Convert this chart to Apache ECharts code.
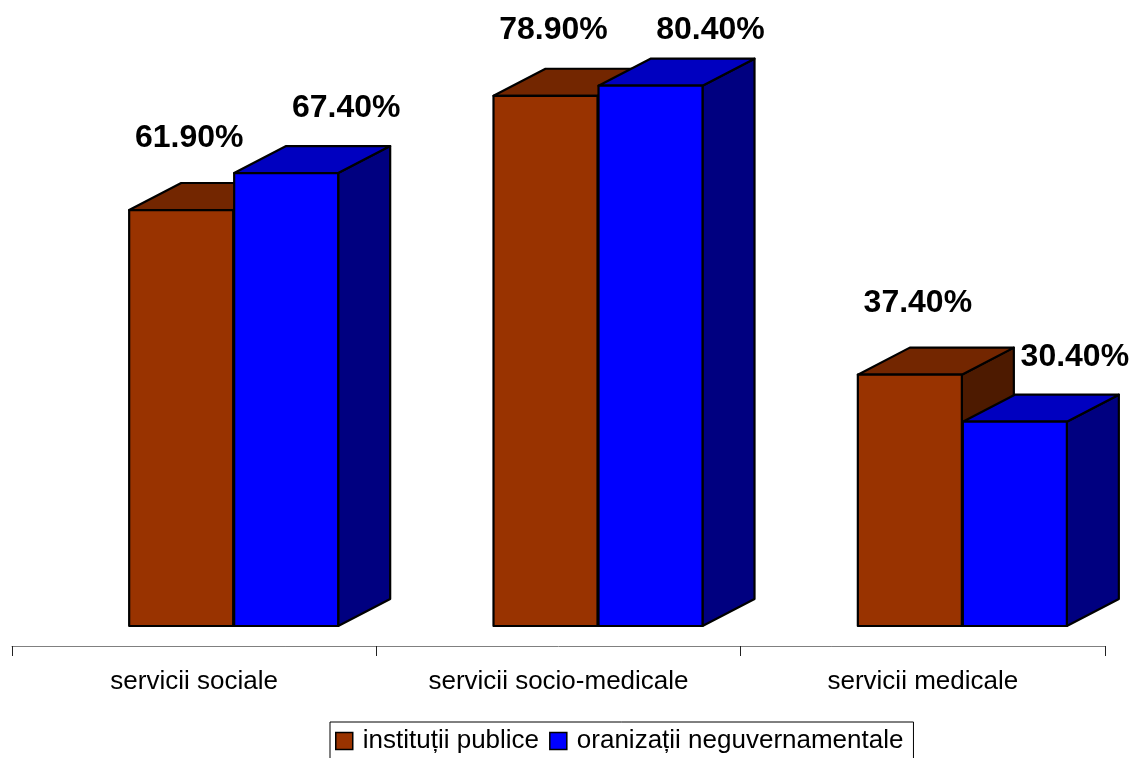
<!DOCTYPE html>
<html>
<head>
<meta charset="utf-8">
<script src="https://cdn.jsdelivr.net/npm/echarts@6/dist/echarts.min.js"></script>
<style>html,body{margin:0;padding:0;background:#fff;}#c{width:1137px;height:758px;}</style>
</head>
<body>
<div id="c"></div>
<script>
var categories = ['servicii sociale', 'servicii socio-medicale', 'servicii medicale'];
var institutiiPublice = [61.9, 78.9, 37.4];
var organizatiiNeguv = [67.4, 80.4, 30.4];
var seriesNames = ['instituții publice', 'oranizații neguvernamentale'];

var FONT = 'Liberation Sans, Arial, sans-serif';

function makeRender(offsetFrac, labelDx, labelDy, colors) {
  return function (params, api) {
    var idx = api.value(0);
    var val = api.value(1);
    var base = api.coord([idx, 0]);
    var top = api.coord([idx, val]);
    var bw = api.size([1, 0])[0];
    var w = bw * 0.2855;
    var x0 = base[0] + offsetFrac * bw;
    var x1 = x0 + w;
    var yb = base[1];
    var yt = top[1];
    var dx = bw * 0.1427;
    var dy = dx * 0.52;
    var line = {stroke: '#000', lineWidth: 2.2, lineJoin: 'round'};
    var ly = Math.max(30, yt - labelDy);
    return {
      type: 'group',
      children: [
        {type: 'polygon', shape: {points: [[x1, yb], [x1 + dx, yb - dy], [x1 + dx, yt - dy], [x1, yt]]},
          style: Object.assign({fill: colors[2]}, line)},
        {type: 'polygon', shape: {points: [[x0, yt], [x1, yt], [x1 + dx, yt - dy], [x0 + dx, yt - dy]]},
          style: Object.assign({fill: colors[1]}, line)},
        {type: 'rect', shape: {x: x0, y: yt, width: w, height: yb - yt},
          style: Object.assign({fill: colors[0]}, line)},
        {type: 'text', z2: 100, style: {text: val.toFixed(2) + '%', x: (x0 + x1) / 2 + labelDx, y: ly,
          align: 'center', verticalAlign: 'middle', fill: '#000',
          fontSize: 32, fontWeight: 'bold', fontFamily: FONT}}
      ]
    };
  };
}

var chart = echarts.init(document.getElementById('c'), null, {renderer: 'canvas'});
chart.setOption({
  backgroundColor: '#fff',
  animation: false,
  grid: {left: 12, right: 32, top: 21.2, bottom: 132},
  xAxis: {
    type: 'category', data: categories, offset: 20,
    axisLine: {onZero: false, lineStyle: {color: '#808080', width: 1}},
    axisTick: {show: true, length: 10, lineStyle: {color: '#222'}},
    axisLabel: {fontSize: 26, fontFamily: FONT, color: '#000', margin: 23}
  },
  yAxis: {type: 'value', min: 0, max: 90, show: false, splitLine: {show: false}},
  legend: {
    left: 330, top: 722, itemWidth: 17, itemHeight: 17, itemGap: 10,
    padding: [6, 10, 30, 5], borderColor: '#000', borderWidth: 1,
    icon: 'rect',
    itemStyle: {borderColor: '#000', borderWidth: 1.5},
    textStyle: {fontSize: 26, fontFamily: FONT, color: '#000', padding: [0, 0, 0, 5]},
    data: seriesNames
  },
  series: [
    {name: seriesNames[0], type: 'custom', itemStyle: {color: '#993300'},
      renderItem: makeRender(-0.1784, 8, 72, ['#993300', '#732600', '#4d1a00']),
      encode: {x: 0, y: 1},
      data: institutiiPublice.map(function (v, i) { return [i, v]; })},
    {name: seriesNames[1], type: 'custom', itemStyle: {color: '#0000ff'},
      renderItem: makeRender(0.1098, 60, 65, ['#0000ff', '#0000c0', '#000080']),
      encode: {x: 0, y: 1},
      data: organizatiiNeguv.map(function (v, i) { return [i, v]; })}
  ]
});
</script>
</body>
</html>
